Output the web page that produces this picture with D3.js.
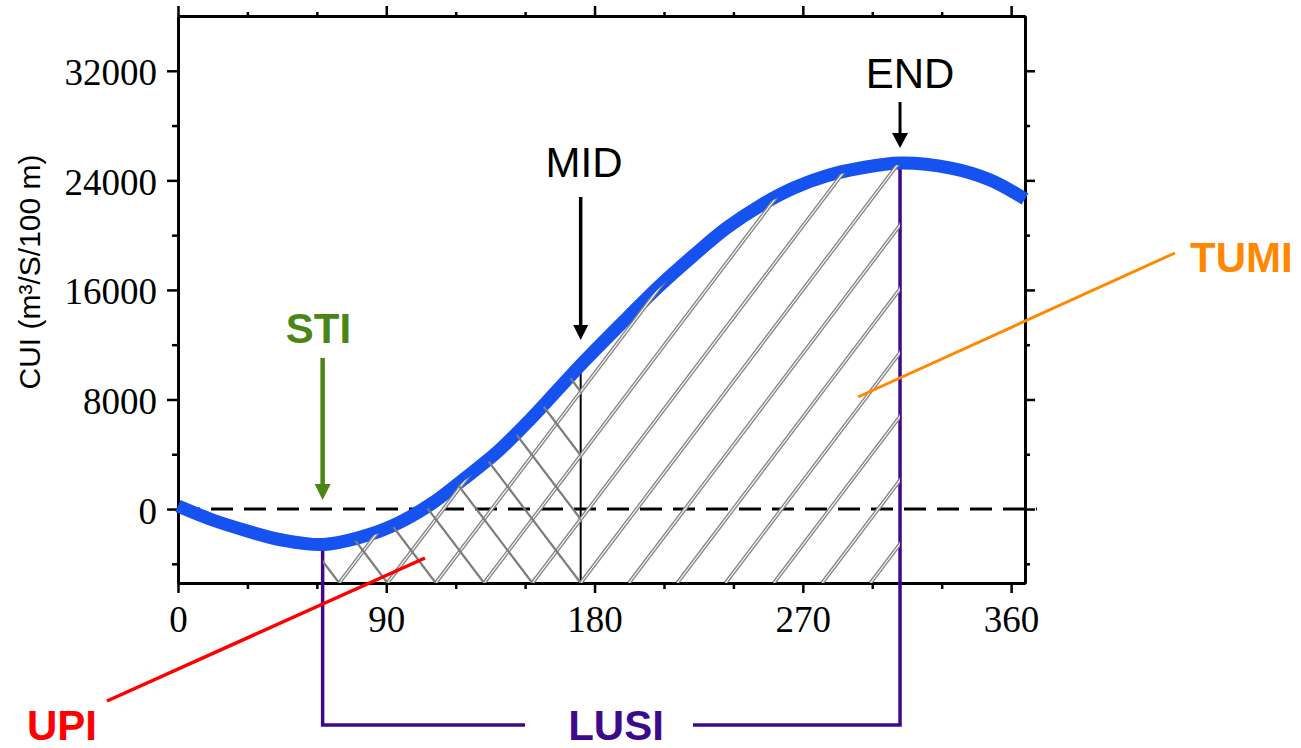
<!DOCTYPE html>
<html>
<head>
<meta charset="utf-8">
<script src="https://cdn.jsdelivr.net/npm/d3@7"></script>
<style>
  body { margin: 0; background: #fff; }
  svg { display: block; }
  .tick text { font-family: 'Liberation Serif', 'Times New Roman', serif; font-size: 37px; fill: #000; }
  .lbl { font-family: 'Liberation Sans', Arial, sans-serif; font-size: 42px; }
</style>
</head>
<body>
<svg id="chart" width="1301" height="748"></svg>
<script>
// cumulative upwelling index (day of year -> CUI)
const days = [0, 15, 30, 45, 63, 82, 96, 110, 123, 138, 152, 174, 194, 208, 223, 237, 252, 266, 280, 295, 312, 334, 351, 366];
const cui  = [220, -800, -1600, -2260, -2590, -1900, -950, 440, 2120, 4170, 6500, 10520, 13950, 16290, 18550, 20520, 22200, 23440, 24320, 24900, 25270, 24900, 24030, 22640];

const xTicks = [0, 90, 180, 270, 360];
const xMinor = [30, 60, 120, 150, 210, 240, 300, 330];
const yTicks = [0, 8000, 16000, 24000, 32000];
const yMinor = [-4000, 4000, 12000, 20000, 28000];

// STI / MID / END markers
const markerNames = ['STI', 'MID', 'END'];
const markerDays  = [62.5, 174, 312];
const markerCui   = [-2590, 10520, 25270];

const svg = d3.select('#chart');

const x = d3.scaleLinear().domain([0, 366]).range([178, 1025]);
const y = d3.scaleLinear().domain([-5400, 36000]).range([583, 16]);
const [xl, xr] = x.range();
const [yb, yt] = y.range();

const data = days.map((d, i) => [d, cui[i]]);
const sti = x(markerDays[0]), mid = x(markerDays[1]), end = x(markerDays[2]);

// ---- axes (frame with ticks on all four sides)
function styleAxis(sel) {
  sel.select('.domain').attr('stroke', '#000').attr('stroke-width', 3);
  sel.selectAll('.tick line').attr('stroke', '#000').attr('stroke-width', 2.5);
}

svg.append('g').attr('transform', `translate(0,${yb})`)
  .call(d3.axisBottom(x).tickValues(xMinor).tickSize(6).tickSizeOuter(0).tickFormat(''))
  .call(styleAxis);
svg.append('g').attr('transform', `translate(0,${yb})`)
  .call(d3.axisBottom(x).tickValues(xTicks).tickSize(10).tickPadding(13).tickSizeOuter(0))
  .call(styleAxis);

svg.append('g').attr('transform', `translate(0,${yt})`)
  .call(d3.axisTop(x).tickValues(xMinor).tickSize(4).tickSizeOuter(0).tickFormat(''))
  .call(styleAxis);
svg.append('g').attr('transform', `translate(0,${yt})`)
  .call(d3.axisTop(x).tickValues(xTicks).tickSize(10).tickSizeOuter(0).tickFormat(''))
  .call(styleAxis);

svg.append('g').attr('transform', `translate(${xl},0)`)
  .call(d3.axisLeft(y).tickValues(yMinor).tickSize(6).tickSizeOuter(0).tickFormat(''))
  .call(styleAxis);
svg.append('g').attr('transform', `translate(${xl},0)`)
  .call(d3.axisLeft(y).tickValues(yTicks).tickSize(11).tickPadding(10).tickSizeOuter(0).tickFormat(d3.format('d')))
  .call(styleAxis)
  .selectAll('text').attr('dy', '0.38em');

svg.append('g').attr('transform', `translate(${xr},0)`)
  .call(d3.axisRight(y).tickValues(yMinor).tickSize(5).tickSizeOuter(0).tickFormat(''))
  .call(styleAxis);
svg.append('g').attr('transform', `translate(${xr},0)`)
  .call(d3.axisRight(y).tickValues(yTicks).tickSize(10).tickSizeOuter(0).tickFormat(''))
  .call(styleAxis);

svg.append('text')
  .attr('transform', 'translate(40,272) rotate(-90)')
  .attr('text-anchor', 'middle')
  .style('font-family', "'Liberation Sans', Arial, sans-serif")
  .style('font-size', '30px')
  .text('CUI (m³/S/100 m)');

// zero line
svg.append('line')
  .attr('x1', xl).attr('x2', xr + 12)
  .attr('y1', y(0)).attr('y2', y(0))
  .attr('stroke', '#000').attr('stroke-width', 3)
  .attr('stroke-dasharray', '22,11');

// MID drop line
svg.append('line')
  .attr('x1', mid).attr('x2', mid)
  .attr('y1', y(markerCui[1])).attr('y2', yb)
  .attr('stroke', '#000').attr('stroke-width', 2);

// LUSI bracket
const purple = '#3d0a8c';
const bracketY = 725;
svg.append('path')
  .attr('d', `M${sti},${y(markerCui[0])}V${bracketY}H525M693,${bracketY}H${end}V${y(markerCui[2])}`)
  .attr('fill', 'none').attr('stroke', purple).attr('stroke-width', 3.5);

// the CUI curve
const smooth = d3.curveCatmullRom.alpha(0.5);
const line = d3.line().x(d => x(d[0])).y(d => y(d[1])).curve(smooth);
svg.append('path')
  .datum(data)
  .attr('d', line)
  .attr('fill', 'none')
  .attr('stroke', '#1552f0')
  .attr('stroke-width', 13);

// ---- hatching under the curve between STI and END
const defs = svg.append('defs');
defs.append('clipPath').attr('id', 'clipSpan')
  .append('rect').attr('x', sti).attr('y', 0).attr('width', end - sti).attr('height', yb);
defs.append('clipPath').attr('id', 'clipUnder')
  .append('path').datum(data)
  .attr('d', d3.area().x(d => x(d[0])).y0(yb).y1(d => y(d[1]) + 2).curve(smooth));
defs.append('clipPath').attr('id', 'clipCross')
  .append('rect').attr('x', sti).attr('y', 0).attr('width', mid - sti).attr('height', yb);

const hatch = svg.append('g').attr('clip-path', 'url(#clipSpan)')
  .append('g').attr('clip-path', 'url(#clipUnder)');

const step = 48.3, slope = 1.32, H = 600;
const bases = d3.range(-12, 12).map(k => mid + k * step);

// "/" double lines
const fwd = b => `M${b},${yb}L${b + H / slope},${yb - H}`;
hatch.selectAll('.fwd').data(bases).enter().append('path')
  .attr('class', 'fwd').attr('d', fwd)
  .attr('stroke', '#858585').attr('stroke-width', 3.8);
hatch.selectAll('.fwdgap').data(bases).enter().append('path')
  .attr('class', 'fwdgap').attr('d', fwd)
  .attr('stroke', '#fff').attr('stroke-width', 1.1);

// "\" single lines, only up to MID
hatch.append('g').attr('clip-path', 'url(#clipCross)')
  .selectAll('.bwd').data(bases).enter().append('path')
  .attr('class', 'bwd')
  .attr('d', b => `M${b},${yb}L${b - H / slope},${yb - H}`)
  .attr('stroke', '#7c7c7c').attr('stroke-width', 2.2);

// ---- arrows and labels
function arrow(xp, yTop, yTip, color, sw, hw, hl) {
  svg.append('line')
    .attr('x1', xp).attr('x2', xp).attr('y1', yTop).attr('y2', yTip - hl + 1)
    .attr('stroke', color).attr('stroke-width', sw);
  svg.append('path')
    .attr('d', `M${xp - hw / 2},${yTip - hl}L${xp + hw / 2},${yTip - hl}L${xp},${yTip}Z`)
    .attr('fill', color);
}

const green = '#4b8516';
arrow(sti, 358, 500, green, 4.5, 16, 16);
arrow(mid, 197, 340, '#000', 3.5, 15, 15);
arrow(end, 102, 148, '#000', 3, 16, 15);

function label(text, xp, yp, color, weight, anchor) {
  svg.append('text').attr('class', 'lbl')
    .attr('x', xp).attr('y', yp)
    .attr('text-anchor', anchor || 'middle')
    .attr('fill', color)
    .style('font-weight', weight)
    .text(text);
}

label(markerNames[0], 318.5, 343, green, 'bold');
label(markerNames[1], 584, 177, '#000', 'normal');
label(markerNames[2], 910, 88, '#000', 'normal');
label('LUSI', 616, 740, purple, 'bold');
label('UPI', 27, 740, '#ff0000', 'bold', 'start');
label('TUMI', 1190, 272, '#ff8800', 'bold', 'start');

// leader lines
svg.append('line')
  .attr('x1', 107).attr('y1', 701).attr('x2', 425).attr('y2', 558)
  .attr('stroke', '#ff0000').attr('stroke-width', 3.5);
svg.append('line')
  .attr('x1', 858).attr('y1', 397).attr('x2', 1175).attr('y2', 253)
  .attr('stroke', '#ff8800').attr('stroke-width', 3);
</script>
</body>
</html>
